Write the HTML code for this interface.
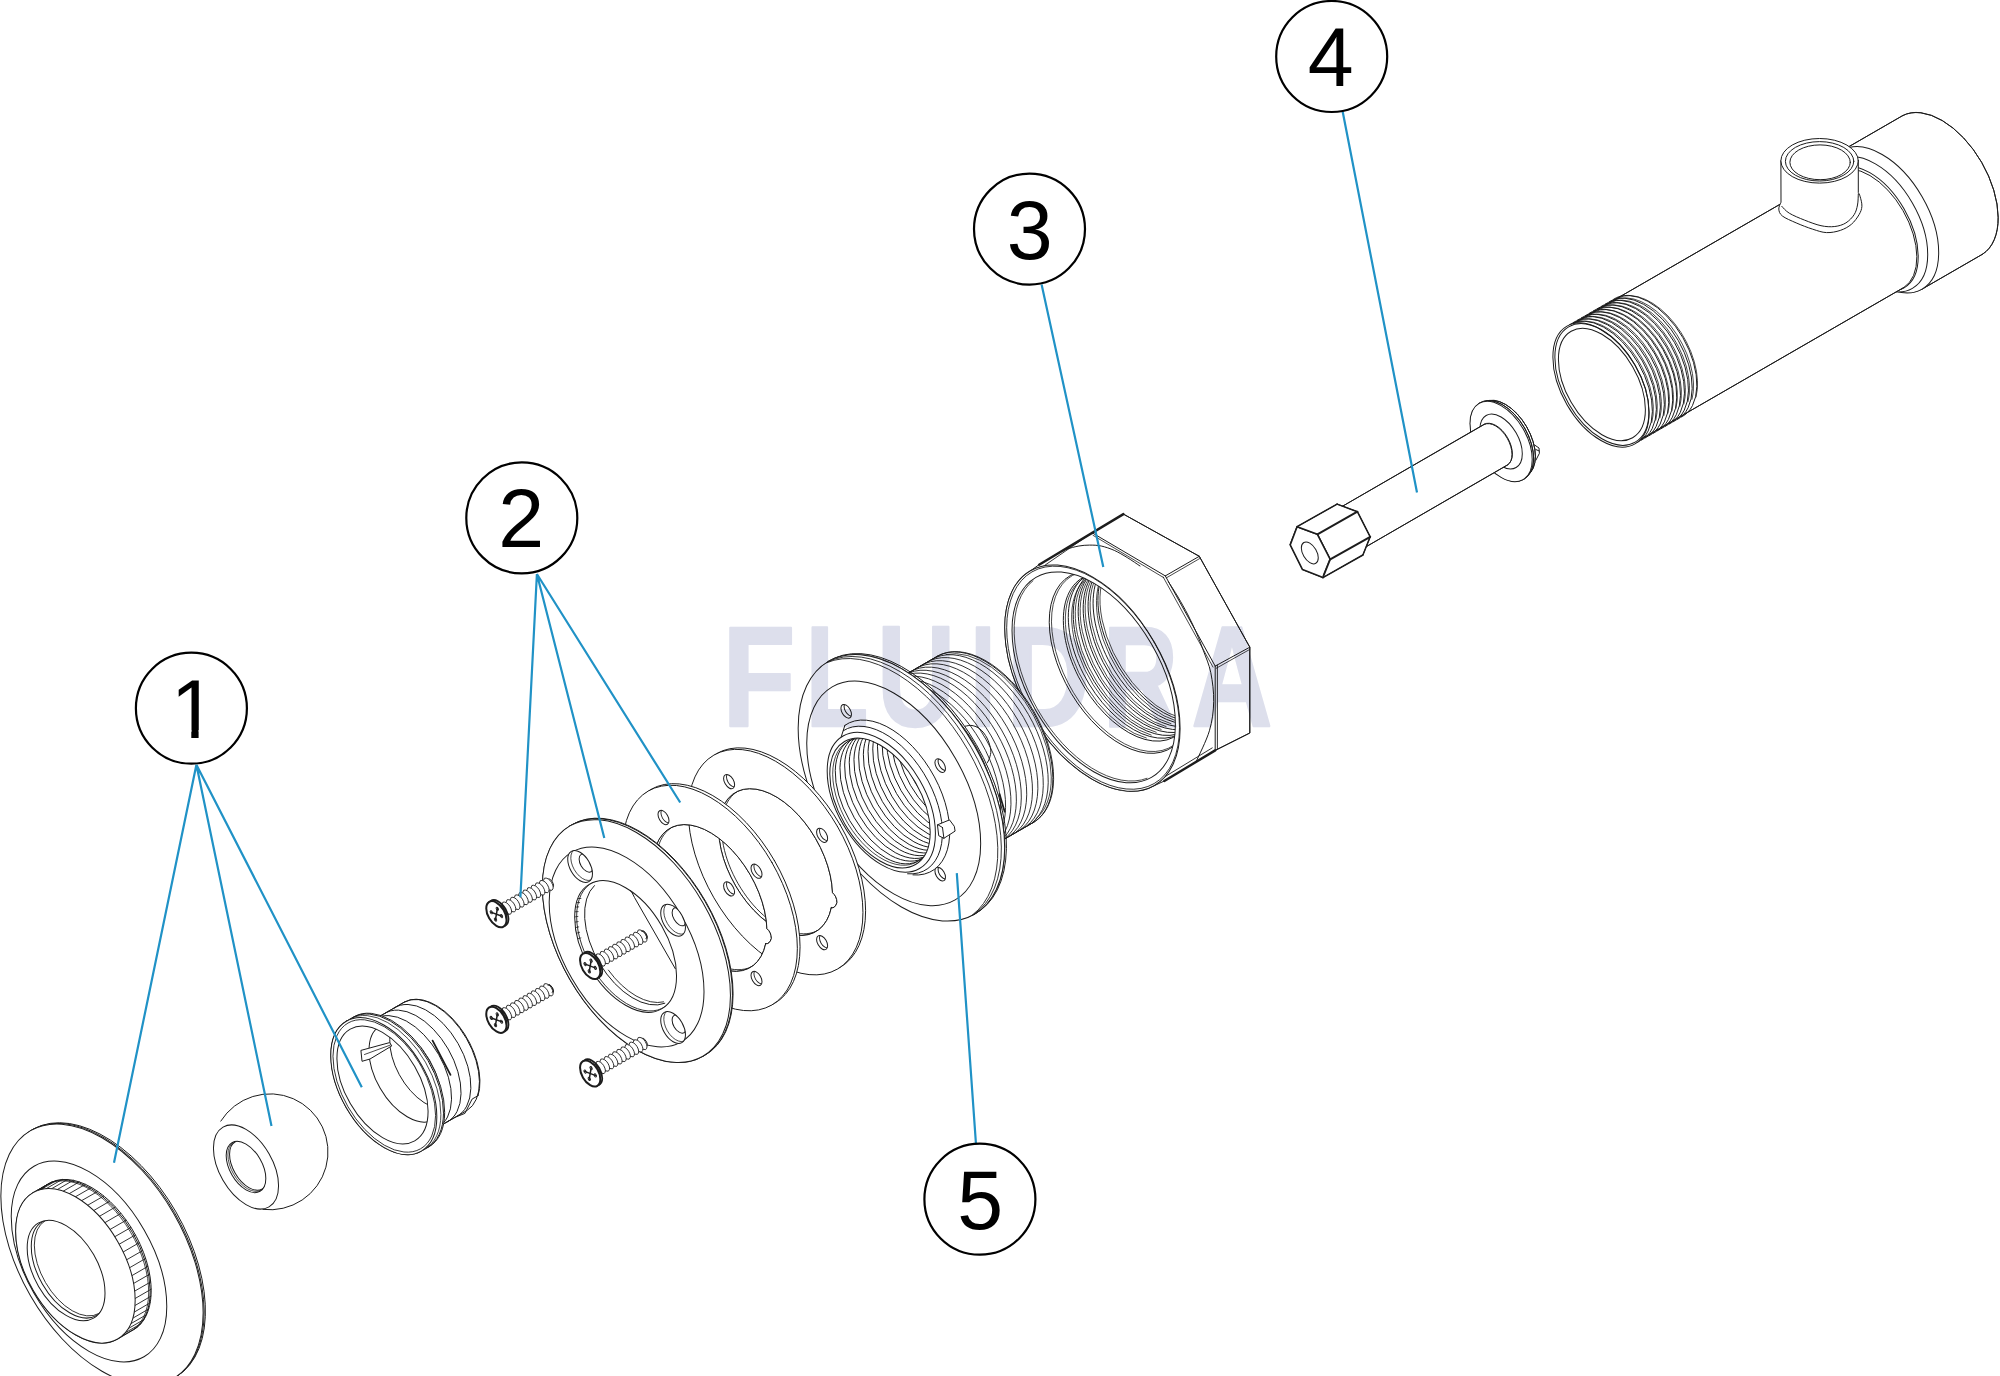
<!DOCTYPE html>
<html lang="en">
<head>
<meta charset="utf-8">
<title>Exploded view</title>
<style>
html,body{margin:0;padding:0;background:#fff;}
body{width:2000px;height:1376px;overflow:hidden;}
svg{display:block;}
.num{font-family:"Liberation Sans",sans-serif;font-size:82.5px;fill:#000;text-anchor:middle;}
.wm{font-family:"Liberation Sans",sans-serif;font-weight:bold;font-size:143px;fill:#dddfec;mix-blend-mode:multiply;}
</style>
</head>
<body>
<svg width="2000" height="1376" viewBox="0 0 2000 1376">
<rect width="2000" height="1376" fill="#fff"/>
<g stroke="#1c1c1c" stroke-width="1" stroke-linecap="round" stroke-linejoin="round" fill="none">
<path d="M1842.1 150.6L1902.7 115.6A46.2 80 -30 0 1 1982.7 254.1L1922.1 289.1A46.2 80 -30 0 1 1842.1 150.6Z" fill="#fff"/>
<path d="M1902.7 115.6A46.2 80 -30 0 1 1982.7 254.1" fill="none"/>
<path d="M1842.1 150.6L1902.7 115.6" fill="none"/>
<path d="M1922.1 289.1L1982.7 254.1" fill="none"/>
<ellipse cx="1882.1" cy="219.8" rx="46.2" ry="80" transform="rotate(-30 1882.1 219.8)" fill="#fff"/>
<ellipse cx="1875.4" cy="224.3" rx="42.7" ry="74" transform="rotate(-30 1875.4 224.3)" fill="#fff"/>
<ellipse cx="1869.8" cy="228.6" rx="39.5" ry="68.5" transform="rotate(-30 1869.8 228.6)" fill="#fff"/>
<path d="M1567.5 327L1836.8 171.5A38.7 67 -30 0 1 1903.8 287.5L1634.5 443A38.7 67 -30 0 1 1567.5 327Z" fill="#fff"/>
<path d="M1567.5 327L1836.8 171.5" fill="none"/>
<path d="M1634.5 443L1903.8 287.5" fill="none"/>
<path d="M1780.9 160.8L1781 202.2C1780.6 203.3 1778.6 206.8 1778.8 209.1C1779 211.4 1779.5 213.7 1782.4 216C1785.3 218.3 1791.2 220.7 1796.2 222.9C1801.2 225.1 1807.7 227.6 1812.7 229.2C1817.8 230.8 1821.9 232.4 1826.5 232.6C1831.1 232.8 1836.1 231.8 1840.3 230.4C1844.5 229 1848.3 226.9 1851.4 224.3C1854.5 221.7 1857.3 217.6 1859.1 214.6C1860.8 211.6 1861.7 209.3 1861.9 206.3C1862.1 203.3 1860.8 199 1860.2 196.7C1859.6 194.4 1858.6 193.2 1858.3 192.5L1858.3 160.8Z" fill="#fff"/>
<path d="M1781.8 206.3C1783 207.5 1785.5 210.9 1789.3 213.2C1793.1 215.5 1799.2 218 1804.5 220.1C1809.8 222.2 1816 224.6 1821 225.7C1826 226.8 1830.6 227 1834.8 226.5C1839 226 1842.7 224.9 1845.9 222.9C1849.1 220.9 1852.3 217.6 1854.2 214.6C1856.1 211.6 1856.8 208.4 1857.5 205C1858.2 201.6 1858.2 195.8 1858.3 194" fill="none"/>
<ellipse cx="1819.6" cy="160.8" rx="38.7" ry="22.3" fill="#fff"/>
<ellipse cx="1819.6" cy="161.3" rx="34.2" ry="19.7"/>
<ellipse cx="1820.1" cy="162.3" rx="30.2" ry="17.4"/>
<path d="M1569.3 324.8A39.3 68 -30 1 1 1637.3 442.5" fill="none"/>
<path d="M1573.3 322.5A39.3 68 -30 1 1 1641.3 440.2" fill="none"/>
<path d="M1577.3 320.2A39.3 68 -30 1 1 1645.3 437.9" fill="none"/>
<path d="M1581.3 317.9A39.3 68 -30 1 1 1649.3 435.6" fill="none"/>
<path d="M1585.4 315.6A39.3 68 -30 1 1 1653.3 433.3" fill="none"/>
<path d="M1589.4 313.2A39.3 68 -30 1 1 1657.3 430.9" fill="none"/>
<path d="M1593.4 310.9A39.3 68 -30 1 1 1661.3 428.6" fill="none"/>
<path d="M1597.4 308.6A39.3 68 -30 1 1 1665.4 426.3" fill="none"/>
<path d="M1601.4 306.3A39.3 68 -30 1 1 1669.4 424" fill="none"/>
<path d="M1605.4 304A39.3 68 -30 1 1 1673.4 421.7" fill="none"/>
<path d="M1609.5 301.6A39.3 68 -30 1 1 1677.4 419.4" fill="none"/>
<path d="M1613.5 299.3A39.3 68 -30 1 1 1681.4 417" fill="none"/>
<path d="M1574 323.5A38.6 66.8 -30 0 1 1651.8 422.5" fill="none" stroke-width="0.8"/>
<path d="M1578 321.2A38.6 66.8 -30 0 1 1655.8 420.1" fill="none" stroke-width="0.8"/>
<path d="M1582 318.9A38.6 66.8 -30 0 1 1659.9 417.8" fill="none" stroke-width="0.8"/>
<path d="M1586 316.6A38.6 66.8 -30 0 1 1663.9 415.5" fill="none" stroke-width="0.8"/>
<path d="M1590 314.2A38.6 66.8 -30 0 1 1667.9 413.2" fill="none" stroke-width="0.8"/>
<path d="M1594.1 311.9A38.6 66.8 -30 0 1 1671.9 410.9" fill="none" stroke-width="0.8"/>
<path d="M1598.1 309.6A38.6 66.8 -30 0 1 1675.9 408.5" fill="none" stroke-width="0.8"/>
<path d="M1602.1 307.3A38.6 66.8 -30 0 1 1679.9 406.2" fill="none" stroke-width="0.8"/>
<path d="M1606.1 305A38.6 66.8 -30 0 1 1683.9 403.9" fill="none" stroke-width="0.8"/>
<path d="M1610.1 302.6A38.6 66.8 -30 0 1 1688 401.6" fill="none" stroke-width="0.8"/>
<path d="M1614.1 300.3A38.6 66.8 -30 0 1 1692 399.3" fill="none" stroke-width="0.8"/>
<path d="M1618.1 298A38.6 66.8 -30 0 1 1696 397" fill="none" stroke-width="0.8"/>
<ellipse cx="1601" cy="385" rx="39.3" ry="68" transform="rotate(-30 1601 385)" fill="#fff"/>
<ellipse cx="1601.9" cy="384.5" rx="38.4" ry="66.5" transform="rotate(-30 1601.9 384.5)" fill="none"/>
<ellipse cx="1601.9" cy="384.5" rx="35.5" ry="61.5" transform="rotate(-30 1601.9 384.5)" fill="none"/>
<path d="M1481.6 403.7L1484.5 402A24.5 42.5 -30 0 1 1527 475.6L1524.1 477.3A24.5 42.5 -30 0 1 1481.6 403.7Z" fill="#fff"/>
<path d="M1484.5 402A24.5 42.5 -30 0 1 1527 475.6" fill="none"/>
<path d="M1534.6 445L1539 448L1539.4 453.3L1535.9 460.2" fill="none"/>
<path d="M1535.8 449.5L1539.2 451" fill="none"/>
<path d="M1479.1 403.4L1480.8 402.4A25.4 44 -30 0 1 1524.8 478.6L1523.1 479.6A25.4 44 -30 0 1 1479.1 403.4Z" fill="#fff"/>
<path d="M1479 403.6A25.4 44 -30 1 1 1522.8 479.6" fill="none"/>
<ellipse cx="1501.1" cy="441.5" rx="25.4" ry="44" transform="rotate(-30 1501.1 441.5)" fill="#fff"/>
<ellipse cx="1501.1" cy="441.5" rx="17.3" ry="30" transform="rotate(-30 1501.1 441.5)" fill="none"/>
<path d="M1338.1 508.8L1484.2 424.5A13.5 23.4 -30 0 1 1507.6 465L1361.5 549.4A13.5 23.4 -30 0 1 1338.1 508.8Z" fill="#fff"/>
<path d="M1484.2 424.2A13.5 23.4 -30 0 1 1507.6 464.8" fill="none"/>
<path d="M1338.1 508.8L1484.2 424.2" fill="none"/>
<path d="M1361.5 549.4L1507.6 464.8" fill="none"/>
<path d="M1297.1 526.7L1337.1 504.1L1357.4 511.7L1370.2 536.8L1362.9 555L1322.9 577.6L1302.5 569.6L1290.2 544.9Z" fill="#fff"/>
<path d="M1337.1 504.1L1357.4 511.7L1370.2 536.8L1362.9 555" fill="none" stroke-width="1.5"/>
<path d="M1297.1 526.7L1337.1 504.1" fill="none" stroke-width="1.5"/>
<path d="M1322.9 577.6L1362.9 555" fill="none" stroke-width="1.5"/>
<path d="M1317.4 534.3L1357.4 511.7" fill="none" stroke-width="2"/>
<path d="M1330.2 559.4L1370.2 536.8" fill="none" stroke-width="2"/>
<path d="M1330.2 559.4L1322.9 577.6L1302.5 569.6L1290.2 544.9L1297.1 526.7L1317.4 534.3Z" fill="#fff" stroke-width="1.6"/>
<path d="M1299.2 527.9L1318.1 534.9L1330 558.3L1323.2 575.2" fill="none" stroke-width="0.9"/>
<ellipse cx="1309.8" cy="552.9" rx="6.9" ry="12" transform="rotate(-30 1309.8 552.9)" fill="none"/>
<path d="M1039.1 564.7L1123.4 514.1L1199.3 556.3L1249.8 647.2L1249.8 733L1215.2 750.4L1164.3 781L1148.8 788.2A71.6 124 -30 0 1 1022.4 576.7Z" fill="#fff"/>
<path d="M1123.4 514.1L1199.3 556.3L1249.8 647.2L1249.8 733L1215.2 750.4" fill="none"/>
<path d="M1039.1 564.7L1123.4 514.1" fill="none" stroke-width="2.4"/>
<path d="M1041.6 567.5L1090 534.2" fill="none" stroke-width="0.9"/>
<path d="M1164.3 781L1215.2 750.4" fill="none" stroke-width="2.4"/>
<path d="M1162.8 778L1212.2 747.9" fill="none" stroke-width="0.9"/>
<path d="M1199.3 556.3L1165.3 575.9" fill="none"/>
<path d="M1249.8 647.2L1215.2 666.1" fill="none"/>
<path d="M1092 532.7L1165.3 575.9" fill="none"/>
<path d="M1165.3 575.9L1215.2 666.1" fill="none"/>
<path d="M1200.1 558.3L1166.3 577.9" fill="none" stroke-width="0.8"/>
<path d="M1249.8 649.4L1216.2 668.3" fill="none" stroke-width="0.8"/>
<path d="M1093 535.3L1163.8 577.7" fill="none" stroke-width="0.8"/>
<path d="M1163.1 576.9L1213 667.1" fill="none" stroke-width="0.8"/>
<path d="M1215.2 666.1L1215.2 750.4" fill="none"/>
<path d="M1217.4 665.1L1217.4 749.2" fill="none" stroke-width="0.9"/>
<path d="M1062.5 551.5C1063.3 551.1 1064.5 549.9 1067.2 549C1069.9 548.1 1075.2 546.6 1078.9 546C1082.6 545.4 1085.7 545.1 1089.4 545.1C1093.1 545.1 1097.1 545.1 1101.2 546C1105.3 546.9 1110 548.5 1114.3 550.4C1118.6 552.3 1123 555 1127.3 557.6C1131.6 560.2 1137.9 564.6 1140 566" fill="none"/>
<path d="M1168.5 582C1170.1 584.5 1174.8 591.5 1178 597C1181.2 602.5 1184.9 609 1188 615C1191.1 621 1193.9 627 1196.5 633C1199.1 639 1201.1 644.3 1203.5 650.9C1205.9 657.5 1209.1 664.2 1210.8 672.7C1212.5 681.2 1213.9 692 1213.7 701.7C1213.5 711.4 1212.3 720.9 1209.4 730.8C1206.5 740.7 1198.5 756.2 1196.3 761.3" fill="none"/>
<ellipse cx="1092.4" cy="678.1" rx="71.6" ry="124" transform="rotate(-30 1092.4 678.1)" fill="#fff"/>
<ellipse cx="1093.1" cy="677.7" rx="70.6" ry="122.2" transform="rotate(-30 1093.1 677.7)" fill="none" stroke-width="0.8"/>
<ellipse cx="1093.7" cy="677.4" rx="66.7" ry="115.5" transform="rotate(-30 1093.7 677.4)" fill="#fff"/>
<clipPath id="cp1"><ellipse cx="1093.7" cy="677.4" rx="66.7" ry="115.5" transform="rotate(-30 1093.7 677.4)"/></clipPath><g clip-path="url(#cp1)">
<path d="M1147 778.3A66.1 114.5 -30 0 1 1033 580.7" fill="none" stroke-width="0.8"/>
<path d="M1177.7 742.6A57.7 100 -30 1 1 1089.9 571" fill="none"/>
<path d="M1178.8 740.8A57.2 99 -30 1 1 1091.8 571" fill="none" stroke-width="0.8"/>
<path d="M1187.3 723.1A53.1 92 -30 1 1 1111.5 575.1" fill="none"/>
<path d="M1192.2 720.3A53.1 92 -30 1 1 1116.5 572.2" fill="none"/>
<path d="M1197.2 717.4A53.1 92 -30 1 1 1121.4 569.4" fill="none"/>
<path d="M1202.1 714.6A53.1 92 -30 1 1 1126.3 566.5" fill="none"/>
<path d="M1207.1 711.7A53.1 92 -30 1 1 1131.3 563.6" fill="none"/>
<path d="M1212 708.9A53.1 92 -30 1 1 1136.2 560.8" fill="none"/>
<path d="M1217 706A53.1 92 -30 1 1 1141.2 557.9" fill="none"/>
<path d="M1221.9 703.1A53.1 92 -30 1 1 1146.1 555.1" fill="none"/>
<path d="M1146.3 738A52.5 91 -30 0 1 1113 575.2" fill="none" stroke-width="0.8"/>
<path d="M1151.2 735.1A52.5 91 -30 0 1 1117.9 572.4" fill="none" stroke-width="0.8"/>
<path d="M1156.2 732.3A52.5 91 -30 0 1 1122.9 569.5" fill="none" stroke-width="0.8"/>
<path d="M1161.1 729.4A52.5 91 -30 0 1 1127.8 566.6" fill="none" stroke-width="0.8"/>
<path d="M1166.1 726.6A52.5 91 -30 0 1 1132.8 563.8" fill="none" stroke-width="0.8"/>
<path d="M1171 723.7A52.5 91 -30 0 1 1137.7 560.9" fill="none" stroke-width="0.8"/>
<path d="M1176 720.8A52.5 91 -30 0 1 1142.7 558.1" fill="none" stroke-width="0.8"/>
<path d="M1180.9 718A52.5 91 -30 0 1 1147.6 555.2" fill="none" stroke-width="0.8"/>
</g>
<path d="M862.1 699.7L938.3 655.7A55.4 96 -30 0 1 1034.3 821.9L958.1 865.9A55.4 96 -30 0 1 862.1 699.7Z" fill="#fff"/>
<path d="M862.1 699.7L938.3 655.7" fill="none"/>
<path d="M958.1 865.9L1034.3 821.9" fill="none"/>
<path d="M861.3 700.2A55.4 96 -30 1 1 957.2 866.4" fill="none" stroke-width="0.9"/>
<path d="M866.7 697.1A55.4 96 -30 1 1 962.6 863.2" fill="none" stroke-width="0.9"/>
<path d="M872 694A55.4 96 -30 1 1 968 860.1" fill="none" stroke-width="0.9"/>
<path d="M877.4 690.9A55.4 96 -30 1 1 973.4 857" fill="none" stroke-width="0.9"/>
<path d="M882.8 687.8A55.4 96 -30 1 1 978.7 853.9" fill="none" stroke-width="0.9"/>
<path d="M888.2 684.6A55.4 96 -30 1 1 984.1 850.8" fill="none" stroke-width="0.9"/>
<path d="M893.6 681.5A55.4 96 -30 1 1 989.5 847.7" fill="none" stroke-width="0.9"/>
<path d="M899 678.4A55.4 96 -30 1 1 994.9 844.6" fill="none" stroke-width="0.9"/>
<path d="M904.3 675.3A55.4 96 -30 1 1 1000.3 841.5" fill="none" stroke-width="0.9"/>
<path d="M909.7 672.2A55.4 96 -30 1 1 1005.7 838.4" fill="none" stroke-width="0.9"/>
<path d="M915.1 669.1A55.4 96 -30 1 1 1011 835.3" fill="none" stroke-width="0.9"/>
<path d="M920.5 666A55.4 96 -30 1 1 1016.4 832.2" fill="none" stroke-width="0.9"/>
<path d="M925.9 662.9A55.4 96 -30 1 1 1021.8 829.1" fill="none" stroke-width="0.9"/>
<path d="M931.2 659.8A55.4 96 -30 1 1 1027.2 826" fill="none" stroke-width="0.9"/>
<path d="M936.6 656.7A55.4 96 -30 1 1 1032.6 822.9" fill="none" stroke-width="0.9"/>
<path d="M946.2 654.5A54.6 94.5 -30 0 1 1035.7 819" fill="none" stroke-width="0.8"/>
<path d="M965.4 726.2C966.5 726.1 969.6 725 972 725.5C974.4 726 977.5 726.9 980 729C982.5 731.1 985.2 734.5 987 738C988.8 741.5 990.4 746.7 990.8 750C991.2 753.3 990.1 755.9 989.5 758C988.9 760.1 987.7 762 987.3 762.8" fill="none"/>
<path d="M999.5 794L1004.7 811.7" fill="none" stroke-width="1.8"/>
<path d="M828.4 661.4L830.1 660.4A84.3 146 -30 0 1 976.1 913.2L974.4 914.2A84.3 146 -30 0 1 828.4 661.4Z" fill="#fff"/>
<path d="M827.6 661.9A84.3 146 -30 1 1 973.5 914.6" fill="none"/>
<ellipse cx="901.4" cy="787.8" rx="84.3" ry="146" transform="rotate(-30 901.4 787.8)" fill="#fff"/>
<path d="M828 661.7A84.3 146 -30 0 1 973.9 914.4" fill="none" stroke-width="0.9"/>
<path d="M826.7 662.7A84.3 146 -30 0 1 972.4 915" fill="none" stroke-width="0.9"/>
<ellipse cx="893.7" cy="793.4" rx="71" ry="123" transform="rotate(-30 893.7 793.4)" fill="#fff"/>
<path d="M844.9 725.3A49.1 85 -30 1 1 913 874.9" fill="none"/>
<path d="M843.3 730.7A46.8 81 -30 1 1 907.6 873.8" fill="none"/>
<path d="M841.1 737.2L844.9 725.3" fill="none"/>
<ellipse cx="881.3" cy="802.2" rx="44.2" ry="76.5" transform="rotate(-30 881.3 802.2)" fill="#fff"/>
<path d="M937.8 824.7L949.5 819.9L954.3 826.3L955.1 831.1L943.9 838.3L939.1 835.9Z" fill="#fff"/>
<path d="M937.8 824.7L942.5 827.5" fill="none"/>
<path d="M942.5 827.5L943.9 838.3" fill="none"/>
<path d="M942.5 827.5L954.3 826.3" fill="none" stroke-width="0"/>
<ellipse cx="880" cy="803" rx="41" ry="71" transform="rotate(-30 880 803)" fill="#fff"/>
<clipPath id="cp2"><ellipse cx="880" cy="803" rx="41" ry="71" transform="rotate(-30 880 803)"/></clipPath><g clip-path="url(#cp2)">
<path d="M922 857.8A40.1 69.5 -30 1 1 861 738.6" fill="none" stroke-width="0.8"/>
<path d="M933.3 823.8A40.1 69.5 -30 1 1 888.6 746.4" fill="none"/>
<path d="M938 821.1A40.1 69.5 -30 1 1 893.3 743.7" fill="none"/>
<path d="M942.7 818.4A40.1 69.5 -30 1 1 898 741" fill="none"/>
<path d="M947.3 815.7A40.1 69.5 -30 1 1 902.7 738.3" fill="none"/>
<path d="M952 813A40.1 69.5 -30 1 1 907.4 735.6" fill="none"/>
<path d="M956.7 810.3A40.1 69.5 -30 1 1 912 732.9" fill="none"/>
<path d="M961.4 807.6A40.1 69.5 -30 1 1 916.7 730.2" fill="none"/>
<path d="M966.1 804.9A40.1 69.5 -30 1 1 921.4 727.5" fill="none"/>
<path d="M970.8 802.2A40.1 69.5 -30 1 1 926.1 724.8" fill="none"/>
<path d="M975.5 799.5A40.1 69.5 -30 1 1 930.8 722.1" fill="none"/>
<path d="M980.2 796.8A40.1 69.5 -30 1 1 935.5 719.4" fill="none"/>
<path d="M984.8 794.1A40.1 69.5 -30 1 1 940.2 716.7" fill="none"/>
<path d="M989.5 791.3A40.1 69.5 -30 1 1 944.9 714" fill="none"/>
<path d="M994.2 788.6A40.1 69.5 -30 1 1 949.5 711.3" fill="none"/>
<path d="M998.9 785.9A40.1 69.5 -30 1 1 954.2 708.6" fill="none"/>
<path d="M1003.6 783.2A40.1 69.5 -30 1 1 958.9 705.9" fill="none"/>
<path d="M1008.3 780.5A40.1 69.5 -30 1 1 963.6 703.1" fill="none"/>
<path d="M1013 777.8A40.1 69.5 -30 1 1 968.3 700.4" fill="none"/>
<path d="M992.5 813.1A38.1 66 -30 1 1 946 693.3" fill="none" stroke-width="0.8"/>
<path d="M994.7 811.8A38.1 66 -30 1 1 948.2 692" fill="none" stroke-width="0.8"/>
<path d="M996.8 810.6A38.1 66 -30 1 1 950.3 690.8" fill="none" stroke-width="0.8"/>
</g>
<ellipse cx="940.2" cy="765.6" rx="4.3" ry="7.5" transform="rotate(-30 940.2 765.6)" fill="#fff"/>
<clipPath id="cp3"><ellipse cx="940.2" cy="765.6" rx="4.3" ry="7.5" transform="rotate(-30 940.2 765.6)"/></clipPath><g clip-path="url(#cp3)">
<ellipse cx="943.2" cy="763.8" rx="4.2" ry="7.2" transform="rotate(-30 943.2 763.8)" fill="none"/>
</g>
<ellipse cx="940.2" cy="874.1" rx="4.3" ry="7.5" transform="rotate(-30 940.2 874.1)" fill="#fff"/>
<clipPath id="cp4"><ellipse cx="940.2" cy="874.1" rx="4.3" ry="7.5" transform="rotate(-30 940.2 874.1)"/></clipPath><g clip-path="url(#cp4)">
<ellipse cx="943.2" cy="872.4" rx="4.2" ry="7.2" transform="rotate(-30 943.2 872.4)" fill="none"/>
</g>
<ellipse cx="846.2" cy="711.3" rx="4.3" ry="7.5" transform="rotate(-30 846.2 711.3)" fill="#fff"/>
<clipPath id="cp5"><ellipse cx="846.2" cy="711.3" rx="4.3" ry="7.5" transform="rotate(-30 846.2 711.3)"/></clipPath><g clip-path="url(#cp5)">
<ellipse cx="849.2" cy="709.5" rx="4.2" ry="7.2" transform="rotate(-30 849.2 709.5)" fill="none"/>
</g>
<path d="M840.1 824.8A71.3 123.5 -30 0 1 716.6 896.2A71.3 123.5 -30 0 1 840.1 824.8ZM831.3 907.9A46.5 80.5 -30 1 1 832.5 892.7Q836.8 896.2 837 902.5Q835.2 908.6 831.3 907.9Z" fill="#fff" fill-rule="evenodd"/>
<path d="M837.4 826.4A71.3 123.5 -30 0 1 713.9 897.8A71.3 123.5 -30 0 1 837.4 826.4ZM831.3 907.9A46.5 80.5 -30 1 1 832.5 892.7Q836.8 896.2 837 902.5Q835.2 908.6 831.3 907.9Z" fill="#fff" fill-rule="evenodd"/>
<clipPath id="cp6"><ellipse cx="775.6" cy="862.1" rx="46.5" ry="80.5" transform="rotate(-30 775.6 862.1)"/></clipPath><g clip-path="url(#cp6)">
<path d="M833.4 909.3A46.5 80.5 -30 1 1 763.7 788.5" fill="none" stroke-width="0.9"/>
</g>
<ellipse cx="822.1" cy="835.3" rx="4.5" ry="7.8" transform="rotate(-30 822.1 835.3)" fill="#fff"/>
<clipPath id="cp7"><ellipse cx="822.1" cy="835.3" rx="4.5" ry="7.8" transform="rotate(-30 822.1 835.3)"/></clipPath><g clip-path="url(#cp7)">
<ellipse cx="824.9" cy="833.7" rx="4.4" ry="7.6" transform="rotate(-30 824.9 833.7)" fill="none" stroke-width="0.9"/>
</g>
<ellipse cx="822.1" cy="942.6" rx="4.5" ry="7.8" transform="rotate(-30 822.1 942.6)" fill="#fff"/>
<clipPath id="cp8"><ellipse cx="822.1" cy="942.6" rx="4.5" ry="7.8" transform="rotate(-30 822.1 942.6)"/></clipPath><g clip-path="url(#cp8)">
<ellipse cx="824.9" cy="941" rx="4.4" ry="7.6" transform="rotate(-30 824.9 941)" fill="none" stroke-width="0.9"/>
</g>
<ellipse cx="729.1" cy="888.9" rx="4.5" ry="7.8" transform="rotate(-30 729.1 888.9)" fill="#fff"/>
<clipPath id="cp9"><ellipse cx="729.1" cy="888.9" rx="4.5" ry="7.8" transform="rotate(-30 729.1 888.9)"/></clipPath><g clip-path="url(#cp9)">
<ellipse cx="731.9" cy="887.3" rx="4.4" ry="7.6" transform="rotate(-30 731.9 887.3)" fill="none" stroke-width="0.9"/>
</g>
<ellipse cx="729.1" cy="781.6" rx="4.5" ry="7.8" transform="rotate(-30 729.1 781.6)" fill="#fff"/>
<clipPath id="cp10"><ellipse cx="729.1" cy="781.6" rx="4.5" ry="7.8" transform="rotate(-30 729.1 781.6)"/></clipPath><g clip-path="url(#cp10)">
<ellipse cx="731.9" cy="780" rx="4.4" ry="7.6" transform="rotate(-30 731.9 780)" fill="none" stroke-width="0.9"/>
</g>
<path d="M774.5 860.7A71.3 123.5 -30 0 1 651 932.1A71.3 123.5 -30 0 1 774.5 860.7ZM765.7 943.8A46.5 80.5 -30 1 1 766.9 928.6Q771.2 932.1 771.4 938.4Q769.6 944.5 765.7 943.8Z" fill="#fff" fill-rule="evenodd"/>
<path d="M771.8 862.3A71.3 123.5 -30 0 1 648.3 933.7A71.3 123.5 -30 0 1 771.8 862.3ZM765.7 943.8A46.5 80.5 -30 1 1 766.9 928.6Q771.2 932.1 771.4 938.4Q769.6 944.5 765.7 943.8Z" fill="#fff" fill-rule="evenodd"/>
<clipPath id="cp11"><ellipse cx="710" cy="898" rx="46.5" ry="80.5" transform="rotate(-30 710 898)"/></clipPath><g clip-path="url(#cp11)">
<path d="M767.8 945.2A46.5 80.5 -30 1 1 698.1 824.4" fill="none" stroke-width="0.9"/>
</g>
<ellipse cx="756.5" cy="871.2" rx="4.5" ry="7.8" transform="rotate(-30 756.5 871.2)" fill="#fff"/>
<clipPath id="cp12"><ellipse cx="756.5" cy="871.2" rx="4.5" ry="7.8" transform="rotate(-30 756.5 871.2)"/></clipPath><g clip-path="url(#cp12)">
<ellipse cx="759.3" cy="869.6" rx="4.4" ry="7.6" transform="rotate(-30 759.3 869.6)" fill="none" stroke-width="0.9"/>
</g>
<ellipse cx="756.5" cy="978.5" rx="4.5" ry="7.8" transform="rotate(-30 756.5 978.5)" fill="#fff"/>
<clipPath id="cp13"><ellipse cx="756.5" cy="978.5" rx="4.5" ry="7.8" transform="rotate(-30 756.5 978.5)"/></clipPath><g clip-path="url(#cp13)">
<ellipse cx="759.3" cy="976.9" rx="4.4" ry="7.6" transform="rotate(-30 759.3 976.9)" fill="none" stroke-width="0.9"/>
</g>
<ellipse cx="663.5" cy="924.8" rx="4.5" ry="7.8" transform="rotate(-30 663.5 924.8)" fill="#fff"/>
<clipPath id="cp14"><ellipse cx="663.5" cy="924.8" rx="4.5" ry="7.8" transform="rotate(-30 663.5 924.8)"/></clipPath><g clip-path="url(#cp14)">
<ellipse cx="666.3" cy="923.2" rx="4.4" ry="7.6" transform="rotate(-30 666.3 923.2)" fill="none" stroke-width="0.9"/>
</g>
<ellipse cx="663.5" cy="817.5" rx="4.5" ry="7.8" transform="rotate(-30 663.5 817.5)" fill="#fff"/>
<clipPath id="cp15"><ellipse cx="663.5" cy="817.5" rx="4.5" ry="7.8" transform="rotate(-30 663.5 817.5)"/></clipPath><g clip-path="url(#cp15)">
<ellipse cx="666.3" cy="815.9" rx="4.4" ry="7.6" transform="rotate(-30 666.3 815.9)" fill="none" stroke-width="0.9"/>
</g>
<path d="M569.9 825.9L572.5 824.4A76.8 133 -30 0 1 705.5 1054.8L702.9 1056.3A76.8 133 -30 0 1 569.9 825.9Z" fill="#fff"/>
<path d="M570.2 825.8A76.8 133 -30 1 1 703.1 1056.1" fill="none"/>
<ellipse cx="636.4" cy="941.1" rx="76.8" ry="133" transform="rotate(-30 636.4 941.1)" fill="#fff"/>
<ellipse cx="626.6" cy="947" rx="63.2" ry="109.5" transform="rotate(-30 626.6 947)" fill="#fff"/>
<ellipse cx="625.6" cy="946.5" rx="41.6" ry="72" transform="rotate(-30 625.6 946.5)" fill="#fff"/>
<clipPath id="cp16"><ellipse cx="625.6" cy="946.5" rx="41.6" ry="72" transform="rotate(-30 625.6 946.5)"/></clipPath><g clip-path="url(#cp16)">
<path d="M669.2 1003.2A41.6 72 -30 1 1 598.3 880.4" fill="none" stroke-width="0.9"/>
<path d="M578.2 938.7L580.9 937.9" fill="none" stroke-width="0.8"/>
<path d="M576.9 933.1L579.6 932.3" fill="none" stroke-width="0.8"/>
<path d="M575.9 927.5L578.7 926.9" fill="none" stroke-width="0.8"/>
<path d="M575.3 922.1L578.1 921.6" fill="none" stroke-width="0.8"/>
<path d="M575.1 916.9L577.9 916.5" fill="none" stroke-width="0.8"/>
<path d="M575.3 911.8L578.1 911.6" fill="none" stroke-width="0.8"/>
<path d="M575.9 907.1L578.7 906.9" fill="none" stroke-width="0.8"/>
<path d="M576.9 902.6L579.6 902.6" fill="none" stroke-width="0.8"/>
<path d="M578.2 898.5L580.9 898.5" fill="none" stroke-width="0.8"/>
<path d="M664.8 1003.3A39.8 69 -30 0 1 594.4 885.6" fill="none"/>
<path d="M663.6 1001.9A39.3 68 -30 0 1 608.4 970.1" fill="none" stroke-width="0.9"/>
</g>
<path d="M630.5 890.5Q632 892 634.5 897.5L675.3 968.7" fill="none"/>
<ellipse cx="673.1" cy="920.2" rx="10.1" ry="17.5" transform="rotate(-30 673.1 920.2)" fill="#fff"/>
<clipPath id="cp17"><ellipse cx="673.1" cy="920.2" rx="10.1" ry="17.5" transform="rotate(-30 673.1 920.2)"/></clipPath><g clip-path="url(#cp17)">
<ellipse cx="679.2" cy="916.7" rx="5.8" ry="10" transform="rotate(-30 679.2 916.7)" fill="none"/>
<path d="M687.3 930.9A10.1 17.5 -30 1 1 670.9 902.4" fill="none" stroke-width="0.8"/>
</g>
<ellipse cx="673.1" cy="1027.5" rx="10.1" ry="17.5" transform="rotate(-30 673.1 1027.5)" fill="#fff"/>
<clipPath id="cp18"><ellipse cx="673.1" cy="1027.5" rx="10.1" ry="17.5" transform="rotate(-30 673.1 1027.5)"/></clipPath><g clip-path="url(#cp18)">
<ellipse cx="679.2" cy="1024" rx="5.8" ry="10" transform="rotate(-30 679.2 1024)" fill="none"/>
<path d="M687.3 1038.3A10.1 17.5 -30 1 1 670.9 1009.8" fill="none" stroke-width="0.8"/>
</g>
<ellipse cx="580.1" cy="866.5" rx="10.1" ry="17.5" transform="rotate(-30 580.1 866.5)" fill="#fff"/>
<clipPath id="cp19"><ellipse cx="580.1" cy="866.5" rx="10.1" ry="17.5" transform="rotate(-30 580.1 866.5)"/></clipPath><g clip-path="url(#cp19)">
<ellipse cx="586.2" cy="863" rx="5.8" ry="10" transform="rotate(-30 586.2 863)" fill="none"/>
<path d="M594.3 877.2A10.1 17.5 -30 1 1 577.9 848.7" fill="none" stroke-width="0.8"/>
</g>
<path d="M501.7 905.4L547.6 878.9A2.9 5 -30 0 1 552.6 887.5L506.7 914A2.9 5 -30 0 1 501.7 905.4Z" fill="#fff"/>
<path d="M544.8 878.1A4.1 7.1 -30 0 1 551.9 890.3L548.6 889.9L543.6 881.2Z" fill="#fff" stroke-width="0.9"/>
<path d="M540.7 880.5A4.1 7.1 -30 0 1 547.8 892.7L544.4 892.3L539.4 883.6Z" fill="#fff" stroke-width="0.9"/>
<path d="M536.5 882.9A4.1 7.1 -30 0 1 543.6 895.1L540.3 894.7L535.3 886Z" fill="#fff" stroke-width="0.9"/>
<path d="M532.3 885.3A4.1 7.1 -30 0 1 539.4 897.5L536.1 897.1L531.1 888.4Z" fill="#fff" stroke-width="0.9"/>
<path d="M528.2 887.7A4.1 7.1 -30 0 1 535.3 899.9L531.9 899.5L526.9 890.8Z" fill="#fff" stroke-width="0.9"/>
<path d="M524 890.1A4.1 7.1 -30 0 1 531.1 902.3L527.8 901.9L522.8 893.2Z" fill="#fff" stroke-width="0.9"/>
<path d="M519.9 892.5A4.1 7.1 -30 0 1 527 904.7L523.6 904.3L518.6 895.6Z" fill="#fff" stroke-width="0.9"/>
<path d="M515.7 894.9A4.1 7.1 -30 0 1 522.8 907.1L519.5 906.7L514.5 898Z" fill="#fff" stroke-width="0.9"/>
<path d="M511.6 897.3A4.1 7.1 -30 0 1 518.7 909.5L515.3 909.1L510.3 900.4Z" fill="#fff" stroke-width="0.9"/>
<path d="M507.4 899.7A4.1 7.1 -30 0 1 514.5 911.9L511.2 911.5L506.2 902.8Z" fill="#fff" stroke-width="0.9"/>
<path d="M503.2 902.1A4.1 7.1 -30 0 1 510.3 914.3L507 913.9L502 905.2Z" fill="#fff" stroke-width="0.9"/>
<path d="M489.2 901.8L501.7 905.4L506.7 914L503.5 926.6Z" fill="#fff"/>
<path d="M490.6 901.1A8.3 14.3 -30 1 1 504.8 925.8" fill="none" stroke-width="1.8"/>
<ellipse cx="496.4" cy="914.2" rx="8.3" ry="14.3" transform="rotate(-30 496.4 914.2)" fill="#fff" stroke-width="2"/>
<path d="M502 916.3L490.8 912.1" fill="none" stroke-width="1.5"/>
<path d="M495.4 920.1L497.4 908.3" fill="none" stroke-width="1.5"/>
<ellipse cx="501.5" cy="916.1" rx="1" ry="1.7" transform="rotate(-30 501.5 916.1)" fill="none" stroke-width="0.9"/>
<ellipse cx="495.5" cy="919.6" rx="1" ry="1.7" transform="rotate(-30 495.5 919.6)" fill="none" stroke-width="0.9"/>
<ellipse cx="491.3" cy="912.3" rx="1" ry="1.7" transform="rotate(-30 491.3 912.3)" fill="none" stroke-width="0.9"/>
<ellipse cx="497.3" cy="908.8" rx="1" ry="1.7" transform="rotate(-30 497.3 908.8)" fill="none" stroke-width="0.9"/>
<path d="M501.7 1011L547.6 984.5A2.9 5 -30 0 1 552.6 993.1L506.7 1019.6A2.9 5 -30 0 1 501.7 1011Z" fill="#fff"/>
<path d="M544.8 983.7A4.1 7.1 -30 0 1 551.9 995.9L548.6 995.5L543.6 986.8Z" fill="#fff" stroke-width="0.9"/>
<path d="M540.7 986.1A4.1 7.1 -30 0 1 547.8 998.3L544.4 997.9L539.4 989.2Z" fill="#fff" stroke-width="0.9"/>
<path d="M536.5 988.5A4.1 7.1 -30 0 1 543.6 1000.7L540.3 1000.3L535.3 991.6Z" fill="#fff" stroke-width="0.9"/>
<path d="M532.3 990.9A4.1 7.1 -30 0 1 539.4 1003.1L536.1 1002.7L531.1 994Z" fill="#fff" stroke-width="0.9"/>
<path d="M528.2 993.3A4.1 7.1 -30 0 1 535.3 1005.5L531.9 1005.1L526.9 996.4Z" fill="#fff" stroke-width="0.9"/>
<path d="M524 995.7A4.1 7.1 -30 0 1 531.1 1007.9L527.8 1007.5L522.8 998.8Z" fill="#fff" stroke-width="0.9"/>
<path d="M519.9 998.1A4.1 7.1 -30 0 1 527 1010.3L523.6 1009.9L518.6 1001.2Z" fill="#fff" stroke-width="0.9"/>
<path d="M515.7 1000.5A4.1 7.1 -30 0 1 522.8 1012.7L519.5 1012.3L514.5 1003.6Z" fill="#fff" stroke-width="0.9"/>
<path d="M511.6 1002.9A4.1 7.1 -30 0 1 518.7 1015.1L515.3 1014.7L510.3 1006Z" fill="#fff" stroke-width="0.9"/>
<path d="M507.4 1005.3A4.1 7.1 -30 0 1 514.5 1017.5L511.2 1017.1L506.2 1008.4Z" fill="#fff" stroke-width="0.9"/>
<path d="M503.2 1007.7A4.1 7.1 -30 0 1 510.3 1019.9L507 1019.5L502 1010.8Z" fill="#fff" stroke-width="0.9"/>
<path d="M547.9 985A2.5 4.4 -30 0 1 552.3 992.6" fill="none" stroke-width="0.9"/>
<path d="M489.2 1007.4L501.7 1011L506.7 1019.6L503.5 1032.2Z" fill="#fff"/>
<path d="M490.6 1006.7A8.3 14.3 -30 1 1 504.8 1031.4" fill="none" stroke-width="1.8"/>
<ellipse cx="496.4" cy="1019.8" rx="8.3" ry="14.3" transform="rotate(-30 496.4 1019.8)" fill="#fff" stroke-width="2"/>
<path d="M502 1021.9L490.8 1017.7" fill="none" stroke-width="1.5"/>
<path d="M495.4 1025.7L497.4 1013.9" fill="none" stroke-width="1.5"/>
<ellipse cx="501.5" cy="1021.7" rx="1" ry="1.7" transform="rotate(-30 501.5 1021.7)" fill="none" stroke-width="0.9"/>
<ellipse cx="495.5" cy="1025.2" rx="1" ry="1.7" transform="rotate(-30 495.5 1025.2)" fill="none" stroke-width="0.9"/>
<ellipse cx="491.3" cy="1017.9" rx="1" ry="1.7" transform="rotate(-30 491.3 1017.9)" fill="none" stroke-width="0.9"/>
<ellipse cx="497.3" cy="1014.4" rx="1" ry="1.7" transform="rotate(-30 497.3 1014.4)" fill="none" stroke-width="0.9"/>
<path d="M595.5 957.2L641.4 930.7A2.9 5 -30 0 1 646.4 939.3L600.5 965.8A2.9 5 -30 0 1 595.5 957.2Z" fill="#fff"/>
<path d="M638.6 929.9A4.1 7.1 -30 0 1 645.7 942.1L642.4 941.7L637.4 933Z" fill="#fff" stroke-width="0.9"/>
<path d="M634.5 932.3A4.1 7.1 -30 0 1 641.6 944.5L638.2 944.1L633.2 935.4Z" fill="#fff" stroke-width="0.9"/>
<path d="M630.3 934.7A4.1 7.1 -30 0 1 637.4 946.9L634.1 946.5L629.1 937.8Z" fill="#fff" stroke-width="0.9"/>
<path d="M626.1 937.1A4.1 7.1 -30 0 1 633.2 949.3L629.9 948.9L624.9 940.2Z" fill="#fff" stroke-width="0.9"/>
<path d="M622 939.5A4.1 7.1 -30 0 1 629.1 951.7L625.7 951.3L620.7 942.6Z" fill="#fff" stroke-width="0.9"/>
<path d="M617.8 941.9A4.1 7.1 -30 0 1 624.9 954.1L621.6 953.7L616.6 945Z" fill="#fff" stroke-width="0.9"/>
<path d="M613.7 944.3A4.1 7.1 -30 0 1 620.8 956.5L617.4 956.1L612.4 947.4Z" fill="#fff" stroke-width="0.9"/>
<path d="M609.5 946.7A4.1 7.1 -30 0 1 616.6 958.9L613.3 958.5L608.3 949.8Z" fill="#fff" stroke-width="0.9"/>
<path d="M605.4 949.1A4.1 7.1 -30 0 1 612.5 961.3L609.1 960.9L604.1 952.2Z" fill="#fff" stroke-width="0.9"/>
<path d="M601.2 951.5A4.1 7.1 -30 0 1 608.3 963.7L605 963.3L600 954.6Z" fill="#fff" stroke-width="0.9"/>
<path d="M597 953.9A4.1 7.1 -30 0 1 604.1 966.1L600.8 965.7L595.8 957Z" fill="#fff" stroke-width="0.9"/>
<path d="M641.7 931.2A2.5 4.4 -30 0 1 646.1 938.8" fill="none" stroke-width="0.9"/>
<path d="M583.1 953.6L595.5 957.2L600.5 965.8L597.4 978.4Z" fill="#fff"/>
<path d="M584.4 952.9A8.3 14.3 -30 1 1 598.6 977.6" fill="none" stroke-width="1.8"/>
<ellipse cx="590.2" cy="966" rx="8.3" ry="14.3" transform="rotate(-30 590.2 966)" fill="#fff" stroke-width="2"/>
<path d="M595.8 968.1L584.6 963.9" fill="none" stroke-width="1.5"/>
<path d="M589.2 971.9L591.2 960.1" fill="none" stroke-width="1.5"/>
<ellipse cx="595.3" cy="967.9" rx="1" ry="1.7" transform="rotate(-30 595.3 967.9)" fill="none" stroke-width="0.9"/>
<ellipse cx="589.3" cy="971.4" rx="1" ry="1.7" transform="rotate(-30 589.3 971.4)" fill="none" stroke-width="0.9"/>
<ellipse cx="585.1" cy="964.1" rx="1" ry="1.7" transform="rotate(-30 585.1 964.1)" fill="none" stroke-width="0.9"/>
<ellipse cx="591.1" cy="960.6" rx="1" ry="1.7" transform="rotate(-30 591.1 960.6)" fill="none" stroke-width="0.9"/>
<path d="M595.5 1064.7L641.4 1038.2A2.9 5 -30 0 1 646.4 1046.8L600.5 1073.3A2.9 5 -30 0 1 595.5 1064.7Z" fill="#fff"/>
<path d="M638.6 1037.4A4.1 7.1 -30 0 1 645.7 1049.6L642.4 1049.2L637.4 1040.5Z" fill="#fff" stroke-width="0.9"/>
<path d="M634.5 1039.8A4.1 7.1 -30 0 1 641.6 1052L638.2 1051.6L633.2 1042.9Z" fill="#fff" stroke-width="0.9"/>
<path d="M630.3 1042.2A4.1 7.1 -30 0 1 637.4 1054.4L634.1 1054L629.1 1045.3Z" fill="#fff" stroke-width="0.9"/>
<path d="M626.1 1044.6A4.1 7.1 -30 0 1 633.2 1056.8L629.9 1056.4L624.9 1047.7Z" fill="#fff" stroke-width="0.9"/>
<path d="M622 1047A4.1 7.1 -30 0 1 629.1 1059.2L625.7 1058.8L620.7 1050.1Z" fill="#fff" stroke-width="0.9"/>
<path d="M617.8 1049.4A4.1 7.1 -30 0 1 624.9 1061.6L621.6 1061.2L616.6 1052.5Z" fill="#fff" stroke-width="0.9"/>
<path d="M613.7 1051.8A4.1 7.1 -30 0 1 620.8 1064L617.4 1063.6L612.4 1054.9Z" fill="#fff" stroke-width="0.9"/>
<path d="M609.5 1054.2A4.1 7.1 -30 0 1 616.6 1066.4L613.3 1066L608.3 1057.3Z" fill="#fff" stroke-width="0.9"/>
<path d="M605.4 1056.6A4.1 7.1 -30 0 1 612.5 1068.8L609.1 1068.4L604.1 1059.7Z" fill="#fff" stroke-width="0.9"/>
<path d="M601.2 1059A4.1 7.1 -30 0 1 608.3 1071.2L605 1070.8L600 1062.1Z" fill="#fff" stroke-width="0.9"/>
<path d="M597 1061.4A4.1 7.1 -30 0 1 604.1 1073.6L600.8 1073.2L595.8 1064.5Z" fill="#fff" stroke-width="0.9"/>
<path d="M583.1 1061.1L595.5 1064.7L600.5 1073.3L597.4 1085.9Z" fill="#fff"/>
<path d="M584.4 1060.4A8.3 14.3 -30 1 1 598.6 1085.1" fill="none" stroke-width="1.8"/>
<ellipse cx="590.2" cy="1073.5" rx="8.3" ry="14.3" transform="rotate(-30 590.2 1073.5)" fill="#fff" stroke-width="2"/>
<path d="M595.8 1075.6L584.6 1071.4" fill="none" stroke-width="1.5"/>
<path d="M589.2 1079.4L591.2 1067.6" fill="none" stroke-width="1.5"/>
<ellipse cx="595.3" cy="1075.4" rx="1" ry="1.7" transform="rotate(-30 595.3 1075.4)" fill="none" stroke-width="0.9"/>
<ellipse cx="589.3" cy="1078.9" rx="1" ry="1.7" transform="rotate(-30 589.3 1078.9)" fill="none" stroke-width="0.9"/>
<ellipse cx="585.1" cy="1071.6" rx="1" ry="1.7" transform="rotate(-30 585.1 1071.6)" fill="none" stroke-width="0.9"/>
<ellipse cx="591.1" cy="1068.1" rx="1" ry="1.7" transform="rotate(-30 591.1 1068.1)" fill="none" stroke-width="0.9"/>
<path d="M360.3 1027.5L404.5 1002A36.1 62.6 -30 0 1 467.1 1110.4L422.9 1135.9A36.1 62.6 -30 0 1 360.3 1027.5Z" fill="#fff"/>
<path d="M360.3 1027.5L404.5 1002" fill="none"/>
<path d="M422.9 1135.9L454.9 1117.4" fill="none"/>
<path d="M365.3 1024.7A36.1 62.6 -30 1 1 427.8 1133" fill="none"/>
<path d="M374.8 1019.2A36.1 62.6 -30 1 1 437.4 1127.5" fill="none"/>
<path d="M384.3 1013.7A36.1 62.6 -30 1 1 446.9 1122" fill="none"/>
<path d="M393.9 1008.2A36.1 62.6 -30 1 1 456.4 1116.5" fill="none"/>
<path d="M404.5 1002A36.1 62.6 -30 0 1 478.1 1095.6" fill="none"/>
<path d="M478.1 1095.6L472.1 1099.1L464.9 1113.4L454.9 1117.4" fill="none"/>
<path d="M432.6 1040.6L450.5 1074.8" fill="none" stroke-width="1.8"/>
<path d="M346.3 1021.2L354.1 1016.7A43.3 75 -30 0 1 429.1 1146.7L421.3 1151.2A43.3 75 -30 0 1 346.3 1021.2Z" fill="#fff"/>
<path d="M352.8 1017.5A43.3 75 -30 1 1 427.8 1147.4" fill="none"/>
<path d="M350.2 1019A43.3 75 -30 1 1 425.2 1148.9" fill="none" stroke-width="0.8"/>
<ellipse cx="383.8" cy="1086.2" rx="43.3" ry="75" transform="rotate(-30 383.8 1086.2)" fill="#fff"/>
<ellipse cx="384.3" cy="1085.9" rx="41.9" ry="72.6" transform="rotate(-30 384.3 1085.9)" fill="none" stroke-width="0.8"/>
<ellipse cx="382.5" cy="1085" rx="37.2" ry="64.5" transform="rotate(-30 382.5 1085)" fill="#fff"/>
<clipPath id="cp20"><ellipse cx="382.5" cy="1085" rx="37.2" ry="64.5" transform="rotate(-30 382.5 1085)"/></clipPath><g clip-path="url(#cp20)">
<ellipse cx="407.2" cy="1072.7" rx="31.2" ry="54" transform="rotate(-30 407.2 1072.7)" fill="none"/>
<path d="M449.9 1107.9A30 52 -30 0 1 400.3 1016.7" fill="none"/>
<path d="M361.3 1050.3L389.6 1042.6L391.8 1045.9L370 1059L362.4 1061.2Z" fill="#fff"/>
<path d="M364.5 1054.5L390.5 1045" fill="none" stroke-width="0.8"/>
</g>
<circle cx="270" cy="1151.8" r="58" fill="#fff" stroke="none"/>
<path d="M220.8 1121.1A58 58 0 1 1 262.9 1209.4" fill="none"/>
<ellipse cx="246" cy="1167" rx="26.6" ry="46" transform="rotate(-30 246 1167)" fill="#fff"/>
<ellipse cx="246" cy="1167" rx="16.2" ry="28" transform="rotate(-30 246 1167)" fill="#fff"/>
<clipPath id="cp21"><ellipse cx="246" cy="1167" rx="16.2" ry="28" transform="rotate(-30 246 1167)"/></clipPath><g clip-path="url(#cp21)">
<ellipse cx="248.8" cy="1165.4" rx="15.7" ry="27.2" transform="rotate(-30 248.8 1165.4)" fill="none"/>
<ellipse cx="247.4" cy="1166.2" rx="15.9" ry="27.6" transform="rotate(-30 247.4 1166.2)" fill="none" stroke-width="0.7"/>
</g>
<path d="M30.5 1130.7L33.1 1129.2A82.6 143 -30 0 1 176.1 1376.8L173.5 1378.3A82.6 143 -30 0 1 30.5 1130.7Z" fill="#fff"/>
<path d="M27.1 1133.2A82.6 143 -30 1 1 169.6 1380" fill="none"/>
<ellipse cx="102" cy="1254.5" rx="82.6" ry="143" transform="rotate(-30 102 1254.5)" fill="#fff"/>
<ellipse cx="89" cy="1261.5" rx="63.5" ry="110" transform="rotate(-30 89 1261.5)" fill="none"/>
<path d="M33.2 1192.6L49.2 1183.4A48.8 84.5 -30 0 1 133.7 1329.7L117.7 1339A48.8 84.5 -30 0 1 33.1 1192.6Z" fill="#fff"/>
<path d="M39.7 1192.2A48.8 84.5 -30 1 1 135.1 1328.8" fill="none"/>
<path d="M24.2 1200.7L40.2 1191.4" fill="none" stroke-width="0.9"/>
<path d="M27.6 1196.8L43.6 1187.5" fill="none" stroke-width="0.9"/>
<path d="M31.6 1193.6L47.6 1184.4" fill="none" stroke-width="0.9"/>
<path d="M36 1191.2L52 1181.9" fill="none" stroke-width="0.9"/>
<path d="M40.8 1189.6L56.8 1180.3" fill="none" stroke-width="0.9"/>
<path d="M46 1188.8L62 1179.5" fill="none" stroke-width="0.9"/>
<path d="M51.5 1188.8L67.5 1179.5" fill="none" stroke-width="0.9"/>
<path d="M57.2 1189.6L73.3 1180.3" fill="none" stroke-width="0.9"/>
<path d="M63.2 1191.2L79.2 1182" fill="none" stroke-width="0.9"/>
<path d="M69.3 1193.6L85.3 1184.4" fill="none" stroke-width="0.9"/>
<path d="M75.4 1196.8L91.4 1187.6" fill="none" stroke-width="0.9"/>
<path d="M81.5 1200.7L97.6 1191.5" fill="none" stroke-width="0.9"/>
<path d="M87.6 1205.3L103.6 1196.1" fill="none" stroke-width="0.9"/>
<path d="M93.6 1210.6L109.6 1201.3" fill="none" stroke-width="0.9"/>
<path d="M99.3 1216.4L115.3 1207.1" fill="none" stroke-width="0.9"/>
<path d="M104.8 1222.7L120.8 1213.5" fill="none" stroke-width="0.9"/>
<path d="M110 1229.5L126 1220.3" fill="none" stroke-width="0.9"/>
<path d="M114.8 1236.7L130.9 1227.5" fill="none" stroke-width="0.9"/>
<path d="M119.2 1244.2L135.3 1235" fill="none" stroke-width="0.9"/>
<path d="M123.2 1252L139.2 1242.7" fill="none" stroke-width="0.9"/>
<path d="M126.6 1259.8L142.6 1250.6" fill="none" stroke-width="0.9"/>
<path d="M129.5 1267.8L145.5 1258.5" fill="none" stroke-width="0.9"/>
<path d="M131.8 1275.7L147.8 1266.4" fill="none" stroke-width="0.9"/>
<path d="M133.5 1283.5L149.6 1274.2" fill="none" stroke-width="0.9"/>
<path d="M134.7 1291.1L150.7 1281.9" fill="none" stroke-width="0.9"/>
<path d="M135.1 1298.5L151.2 1289.2" fill="none" stroke-width="0.9"/>
<path d="M135 1305.5L151 1296.2" fill="none" stroke-width="0.9"/>
<path d="M134.2 1312.1L150.2 1302.8" fill="none" stroke-width="0.9"/>
<path d="M132.8 1318.2L148.8 1308.9" fill="none" stroke-width="0.9"/>
<path d="M130.8 1323.7L146.8 1314.5" fill="none" stroke-width="0.9"/>
<path d="M128.2 1328.6L144.2 1319.4" fill="none" stroke-width="0.9"/>
<path d="M125 1332.9L141 1323.7" fill="none" stroke-width="0.9"/>
<path d="M121.3 1336.5L137.3 1327.2" fill="none" stroke-width="0.9"/>
<path d="M39.9 1190.2A48.8 84.5 -30 1 1 133.9 1329.3" fill="none" stroke-width="0.8"/>
<ellipse cx="75.4" cy="1265.8" rx="48.8" ry="84.5" transform="rotate(-30 75.4 1265.8)" fill="#fff"/>
<ellipse cx="66.1" cy="1270.5" rx="31.8" ry="55" transform="rotate(-30 66.1 1270.5)" fill="#fff"/>
<clipPath id="cp22"><ellipse cx="66.1" cy="1270.5" rx="31.8" ry="55" transform="rotate(-30 66.1 1270.5)"/></clipPath><g clip-path="url(#cp22)">
<ellipse cx="69.6" cy="1268.5" rx="31.3" ry="54.2" transform="rotate(-30 69.6 1268.5)" fill="none"/>
<ellipse cx="72.2" cy="1267" rx="30.9" ry="53.6" transform="rotate(-30 72.2 1267)" fill="none" stroke-width="0.8"/>
</g>
</g>
<text class="wm" y="725.8" stroke="#dddfec" stroke-width="2.4" stroke-linejoin="round"><tspan x="722.2" textLength="73.2" lengthAdjust="spacingAndGlyphs">F</tspan><tspan x="805.6" textLength="62.9" lengthAdjust="spacingAndGlyphs">L</tspan><tspan x="877.1" textLength="78.2" lengthAdjust="spacingAndGlyphs">U</tspan><tspan x="970.4" textLength="24.9" lengthAdjust="spacingAndGlyphs">I</tspan><tspan x="1006.6" textLength="83.5" lengthAdjust="spacingAndGlyphs">D</tspan><tspan x="1103.1" textLength="74.9" lengthAdjust="spacingAndGlyphs">R</tspan><tspan x="1191.4" textLength="80.9" lengthAdjust="spacingAndGlyphs">A</tspan></text>
<path d="M196.4 764.8L114 1162.7M196.4 764.8L271.5 1126M196.4 764.8L361.8 1087.3M536.9 574L520.4 897.2M536.9 574L604.3 838.1M536.9 574L680.2 802.5M1041.6 284.4L1103.3 566.9M1342.7 111.8L1417 492.5M975.9 1143L956.8 873.2" stroke="#2092c6" stroke-width="2.2" fill="none" stroke-linecap="butt"/>
<g stroke="#000" stroke-width="2.2" fill="#fff">
<circle cx="191.4" cy="708.2" r="55.5"/>
<circle cx="521.8" cy="517.9" r="55.5"/>
<circle cx="1029.5" cy="229.1" r="55.5"/>
<circle cx="1331.7" cy="56.5" r="55.5"/>
<circle cx="979.9" cy="1199.2" r="55.5"/>
</g>
<clipPath id="one"><rect x="160.7" y="667.7" width="80" height="62.3"/><rect x="191.3" y="725.7" width="7.3" height="14"/></clipPath>
<text class="num" x="193.6" y="737.7" clip-path="url(#one)">1</text>
<text class="num" x="521.3" y="547.4">2</text>
<text class="num" x="1029.8" y="258.6">3</text>
<text class="num" x="1330.7" y="86">4</text>
<text class="num" x="980.3" y="1228.7">5</text>
</svg>
</body>
</html>
